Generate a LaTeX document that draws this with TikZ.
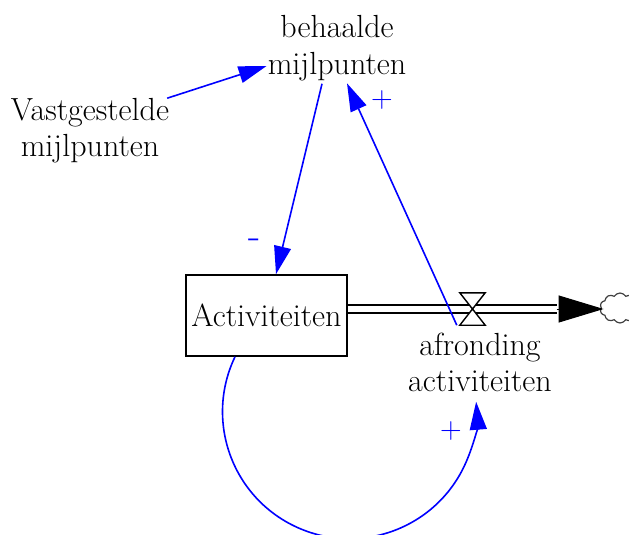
\documentclass[tikz,border=0pt]{standalone}
\usepackage{fontspec}
\usetikzlibrary{arrows.meta,calc,shapes.symbols}
\begin{document}
\begin{tikzpicture}[x=1pt,y=1pt,
  lbl/.style={font=\fontsize{32}{36.5}\selectfont, align=center, inner sep=0pt},
  stock/.style={draw, line width=1.6pt, minimum width=161pt, minimum height=81pt,
    inner sep=0pt, font=\fontsize{32}{36.5}\selectfont},
  link/.style={draw=blue, line width=1.6pt, -{Triangle[length=28pt,width=17pt]}},
  pol/.style={text=blue, font=\fontsize{30}{34}\selectfont, inner sep=0pt},
  pipe/.style={draw=black, double=white, double distance=6.5pt, line width=1.8pt},
  flowtip/.style={line width=1pt, -{Triangle[length=45pt,width=27pt]}},
  valvebox/.style={minimum width=25pt, minimum height=32pt, inner sep=0pt},
  sinkcloud/.style={cloud, draw=black!75, line width=1.2pt, cloud puffs=10,
    cloud puff arc=120, aspect=1.3, minimum width=40pt, minimum height=30pt, inner sep=0pt}
]
\useasboundingbox (0,0) rectangle (629,-535);

% variables and stock
\node[lbl] (behaald) at (337,-48) {behaalde\\mijlpunten};
\node[lbl] (vast) at (90,-130.5) {Vastgestelde\\mijlpunten};
\node[stock] (act) at (266.5,-315.5) {Activiteiten};
\node[lbl] (afr) at (480,-362.5) {afronding\\activiteiten};

% flow: pipe, valve, sink
\node[valvebox] (valve) at (472.5,-309) {};
\node[sinkcloud] (sink) at (620,-308) {};
\coordinate (pipeend) at ($(sink.west |- valve)+(-44,0)$);
\draw[pipe] (act.east |- valve) -- (pipeend);
\draw[flowtip] (pipeend) -- ($(sink.west |- valve)+(3,0)$);
\draw[fill=white, line width=1.4pt] (valve.north west) -- (valve.north east)
  -- (valve.south west) -- (valve.south east) -- cycle;

% causal links
\draw[link] ($(vast.north east)+(-2,-0.5)$) -- ($(behaald.west)+(-1,-18)$);
\draw[link] ($(behaald.south)+(-15,-3)$) -- ($(act.north)+(9.5,0)$);
\draw[link] ($(valve.south west)+(-3,0)$) -- ($(behaald.south)+(10,-2.5)$);
\draw[link] ($(act.south)+(-31.5,0)$) arc[start angle=154.4, end angle=364.5, radius=127];

% polarities
\node[pol, font=\fontsize{40}{44}\selectfont] (p1) at (255,-244) {-};
\node[pol] (p2) at (382,-100) {+};
\node[pol] (p3) at (451,-431) {+};
\end{tikzpicture}
\end{document}
